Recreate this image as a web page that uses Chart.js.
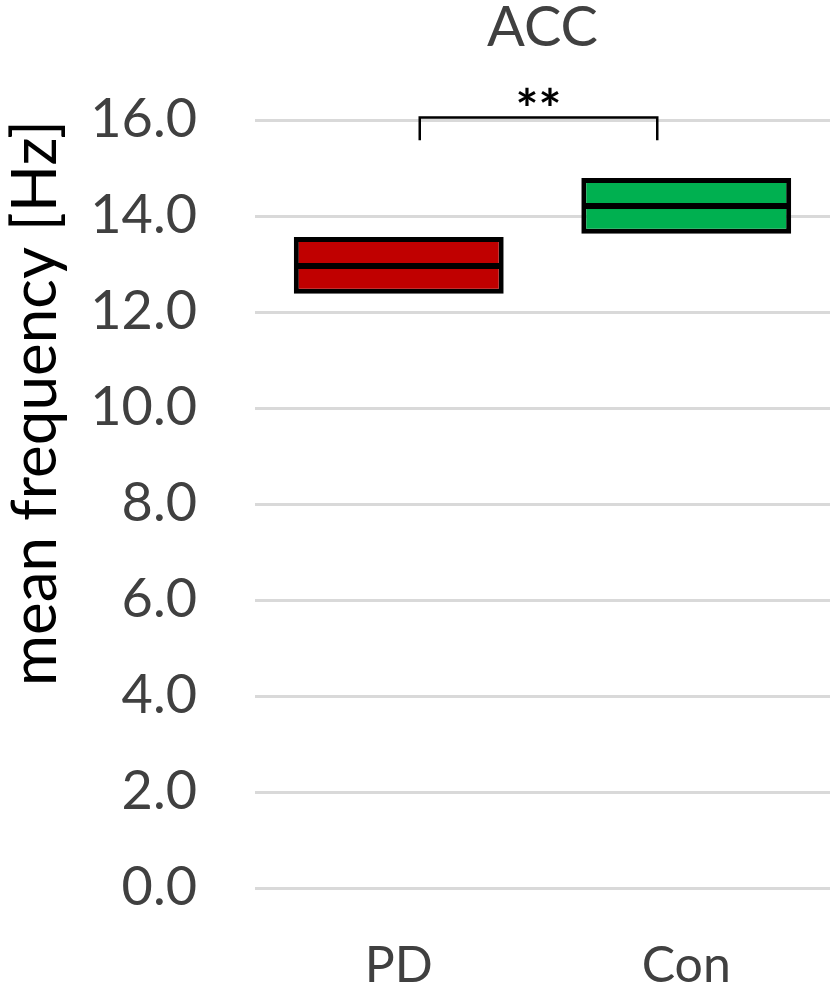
<!DOCTYPE html>
<html>
<head>
<meta charset="utf-8">
<script src="https://cdn.jsdelivr.net/npm/chart.js@4"></script>
<style>
  html, body { margin: 0; padding: 0; background: #fff; overflow: hidden; }
  canvas { display: block; }
</style>
</head>
<body>
<canvas id="accChart" width="834" height="987"></canvas>
<script>
// values
const groups = ['PD', 'Con'];
const lows = [12.38, 13.63];
const medians = [12.96, 14.21];
const highs = [13.56, 14.79];
const fills = ['#C00000', '#00B050'];
const yTicks = [0, 2, 4, 6, 8, 10, 12, 14, 16];
const sigLabel = '**';

const font = 'Lato, "Open Sans", sans-serif';
const grey = '#404040';

// bracket + stars over the two boxes
const bracketPlugin = {
  id: 'bracket',
  afterDatasetsDraw(chart) {
    const { ctx, scales: { x, y } } = chart;
    const x1 = x.getPixelForValue(0) + 21;
    const x2 = x.getPixelForValue(1) - 29;
    const yTop = y.getPixelForValue(16.05);
    const yLeg = y.getPixelForValue(15.58);
    ctx.save();
    ctx.strokeStyle = '#000';
    ctx.lineWidth = 2.5;
    ctx.beginPath();
    ctx.moveTo(x1, yLeg);
    ctx.lineTo(x1, yTop);
    ctx.lineTo(x2, yTop);
    ctx.lineTo(x2, yLeg);
    ctx.stroke();
    ctx.fillStyle = '#000';
    ctx.font = 'bold 54px ' + font;
    ctx.textAlign = 'center';
    ctx.textBaseline = 'middle';
    ctx.fillText(sigLabel, (x1 + x2) / 2, y.getPixelForValue(16.2));
    ctx.restore();
  }
};

new Chart(document.getElementById('accChart'), {
  type: 'bar',
  data: {
    labels: groups,
    datasets: [
      {
        label: 'lower',
        data: groups.map((g, i) => [lows[i], medians[i]]),
        backgroundColor: fills,
        borderColor: '#000',
        borderWidth: { top: 3, bottom: 5, left: 5, right: 5 },
        borderSkipped: false,
        grouped: false,
        categoryPercentage: 1,
        barPercentage: 0.73
      },
      {
        label: 'upper',
        data: groups.map((g, i) => [medians[i], highs[i]]),
        backgroundColor: fills,
        borderColor: '#000',
        borderWidth: { top: 5, bottom: 3, left: 5, right: 5 },
        borderSkipped: false,
        grouped: false,
        categoryPercentage: 1,
        barPercentage: 0.73
      }
    ]
  },
  options: {
    responsive: false,
    animation: false,
    layout: { padding: { left: 0, right: 4, top: 0, bottom: 0 } },
    plugins: {
      legend: { display: false },
      tooltip: { enabled: false },
      title: {
        display: true,
        fullSize: false,
        text: 'ACC',
        color: grey,
        font: { family: font, size: 56, weight: 'normal', lineHeight: 1 },
        padding: { top: 0, bottom: 64 }
      }
    },
    scales: {
      x: {
        afterFit: axis => { axis.height = 99; },
        grid: { display: false, drawTicks: false },
        border: { display: false },
        ticks: {
          color: grey,
          font: { family: font, size: 50, lineHeight: 1 },
          padding: 53
        }
      },
      y: {
        min: 0,
        max: 16,
        afterFit: axis => { axis.width = 255; },
        afterBuildTicks: axis => { axis.ticks = yTicks.map(v => ({ value: v })); },
        grid: { color: '#D9D9D9', lineWidth: 3, drawTicks: false },
        border: { display: false },
        ticks: {
          color: grey,
          font: { family: font, size: 54 },
          padding: 58,
          callback: v => v.toFixed(1)
        },
        title: {
          display: true,
          text: 'mean frequency [Hz]',
          color: '#000',
          align: 'end',
          font: { family: font, size: 62, lineHeight: 1 },
          padding: { top: 5, bottom: 24 }
        }
      }
    }
  },
  plugins: [bracketPlugin]
});
</script>
</body>
</html>
